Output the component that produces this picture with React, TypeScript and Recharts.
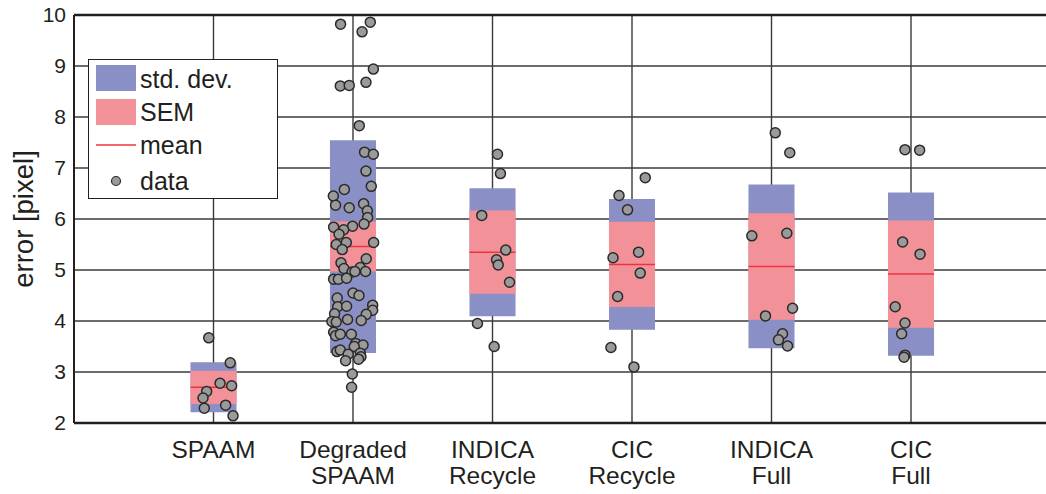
import React from "react";
import {
  ComposedChart,
  XAxis,
  YAxis,
  CartesianGrid,
  Scatter,
  ReferenceArea,
  ReferenceLine,
} from "recharts";

// ---- data ----
const categories = ["SPAAM", "Degraded SPAAM", "INDICA Recycle", "CIC Recycle", "INDICA Full", "CIC Full"];
const labelLines: string[][] = [
  ["SPAAM"],
  ["Degraded", "SPAAM"],
  ["INDICA", "Recycle"],
  ["CIC", "Recycle"],
  ["INDICA", "Full"],
  ["CIC", "Full"],
];
const catPositions = [1, 2, 3, 4, 5, 6];
const yTicks = [2, 3, 4, 5, 6, 7, 8, 9, 10];

const means = [2.7, 5.46, 5.35, 5.11, 5.07, 4.92];
const stdDevs = [0.49, 2.085, 1.255, 1.28, 1.605, 1.6];
const sems = [0.325, 0.49, 0.815, 0.835, 1.045, 1.05];

const spaamValues = [3.67, 3.18, 2.78, 2.73, 2.62, 2.49, 2.29, 2.35, 2.14];
const spaamJitter = [-0.034, 0.12, 0.047, 0.13, -0.049, -0.075, -0.066, 0.087, 0.14];

const degradedValues = [
  9.82, 9.86, 9.67, 8.94, 8.61, 8.62, 8.68, 7.83, 7.31, 7.27, 6.94, 6.64, 6.58, 6.45, 6.27, 6.22, 6.3,
  6.16, 6.03, 5.9, 5.86, 5.84, 5.79, 5.7, 5.54, 5.54, 5.5, 5.4, 5.22, 5.14, 5.03, 5.05, 4.96, 4.97,
  4.97, 4.82, 4.82, 4.84, 4.55, 4.5, 4.45, 4.28, 4.29, 4.31, 4.21, 4.14, 4.13, 3.99, 3.98, 4.03, 4.01,
  3.78, 3.71, 3.74, 3.74, 3.56, 3.53, 3.5, 3.4, 3.43, 3.35, 3.37, 3.3, 3.25, 3.22, 2.96, 2.7,
];
const degradedJitter = [
  -0.089, 0.124, 0.065, 0.146, -0.091, -0.027, 0.093, 0.045, 0.083, 0.146, 0.093, 0.131, -0.062,
  -0.141, -0.125, -0.027, 0.076, 0.103, 0.105, 0.079, -0.003, -0.139, -0.067, -0.1, 0.148, -0.048,
  -0.12, -0.077, 0.095, -0.086, -0.065, 0.052, -0.007, 0.014, 0.09, -0.139, -0.105, -0.046, 0, 0.043,
  -0.113, -0.11, -0.046, 0.141, 0.141, -0.132, 0.095, -0.151, -0.12, -0.039, 0.059, -0.139, -0.125,
  -0.091, -0.012, 0.019, 0.072, 0.009, -0.115, -0.091, -0.034, 0.052, 0.057, 0.04, -0.053, -0.005,
  -0.01,
];

const indicaRecycleValues = [7.27, 6.89, 6.07, 5.39, 5.2, 5.1, 4.76, 3.95, 3.5];
const indicaRecycleJitter = [0.036, 0.057, -0.077, 0.095, 0.029, 0.041, 0.122, -0.108, 0.012];

const cicRecycleValues = [6.81, 6.46, 6.18, 5.35, 5.24, 4.94, 4.48, 3.48, 3.1];
const cicRecycleJitter = [0.095, -0.093, -0.032, 0.047, -0.136, 0.059, -0.103, -0.151, 0.014];

const indicaFullValues = [7.69, 7.3, 5.67, 5.72, 4.25, 4.1, 3.75, 3.63, 3.51];
const indicaFullJitter = [0.027, 0.131, -0.141, 0.11, 0.151, -0.043, 0.079, 0.05, 0.115];

const cicFullValues = [7.36, 7.35, 5.55, 5.31, 4.28, 3.96, 3.75, 3.33, 3.29];
const cicFullJitter = [-0.043, 0.062, -0.06, 0.065, -0.113, -0.043, -0.067, -0.043, -0.05];

const allValues = [spaamValues, degradedValues, indicaRecycleValues, cicRecycleValues, indicaFullValues, cicFullValues];
const allJitter = [spaamJitter, degradedJitter, indicaRecycleJitter, cicRecycleJitter, indicaFullJitter, cicFullJitter];

const scatterData = allValues.flatMap((vals, ci) =>
  vals.map((v, i) => ({ x: catPositions[ci] + allJitter[ci][i], y: v, cat: categories[ci] }))
);

// ---- style ----
const FONT = '"Liberation Sans", Arial, Helvetica, sans-serif';
const TEXT = "#231f20";
const GRID = "#3a3a3a";
const SD_COLOR = "#8a8fc6";
const SEM_COLOR = "#f39198";
const MEAN_COLOR = "#ee3340";
const HALF_W = 0.165;

const XTick = (props: any) => {
  const { x, y, payload } = props;
  const idx = catPositions.indexOf(payload.value);
  const lines = idx >= 0 ? labelLines[idx] : [];
  return (
    <text x={x} y={y} textAnchor="middle" fill={TEXT} fontFamily={FONT} fontSize={24.5}>
      {lines.map((l, i) => (
        <tspan key={i} x={x} y={y + 27 + i * 26}>
          {l}
        </tspan>
      ))}
    </text>
  );
};

const YLabel = (props: any) => {
  const vb = props.viewBox || {};
  const cy = (vb.y ?? 15) + (vb.height ?? 408) / 2;
  const cx = 33;
  return (
    <text
      x={cx}
      y={cy}
      transform={`rotate(-90 ${cx} ${cy})`}
      textAnchor="middle"
      fill={TEXT}
      fontFamily={FONT}
      fontSize={27.5}
    >
      error [pixel]
    </text>
  );
};

const Dot = (props: any) => {
  const { cx, cy } = props;
  if (cx == null || cy == null) return null;
  return <circle cx={cx} cy={cy} r={5} fill="#9a9a9a" stroke="#2a2a2a" strokeWidth={1.5} />;
};

export default function App() {
  return (
    <div
      style={{
        position: "absolute",
        left: 0,
        top: 0,
        width: 1046,
        height: 494,
        overflow: "hidden",
        background: "#fff",
        fontFamily: FONT,
      }}
    >
      <ComposedChart width={1060} height={494} margin={{ top: 15, right: 9.5, left: 0, bottom: 0 }}>
        <CartesianGrid stroke={GRID} strokeWidth={1.4} />
        <XAxis
          type="number"
          dataKey="x"
          domain={[0, 7]}
          ticks={catPositions}
          interval={0}
          height={71}
          tickLine={false}
          axisLine={{ stroke: TEXT, strokeWidth: 2.5 }}
          tick={<XTick />}
          allowDataOverflow
        />
        <YAxis
          type="number"
          dataKey="y"
          domain={[2, 10]}
          ticks={yTicks}
          interval={0}
          width={74}
          tickLine={false}
          axisLine={{ stroke: TEXT, strokeWidth: 2 }}
          tick={{ fill: TEXT, fontFamily: FONT, fontSize: 21 }}
          label={<YLabel />}
          allowDataOverflow
        />
        <ReferenceLine y={10} stroke={TEXT} strokeWidth={2.5} />
        {catPositions.map((c, i) => (
          <ReferenceArea
            key={"sd" + i}
            x1={c - HALF_W}
            x2={c + HALF_W}
            y1={means[i] - stdDevs[i]}
            y2={means[i] + stdDevs[i]}
            fill={SD_COLOR}
            fillOpacity={1}
            stroke="none"
          />
        ))}
        {catPositions.map((c, i) => (
          <ReferenceArea
            key={"sem" + i}
            x1={c - HALF_W}
            x2={c + HALF_W}
            y1={means[i] - sems[i]}
            y2={means[i] + sems[i]}
            fill={SEM_COLOR}
            fillOpacity={1}
            stroke="none"
          />
        ))}
        {catPositions.map((c, i) => (
          <ReferenceLine
            key={"mean" + i}
            segment={[
              { x: c - HALF_W, y: means[i] },
              { x: c + HALF_W, y: means[i] },
            ]}
            stroke={MEAN_COLOR}
            strokeWidth={1.5}
          />
        ))}
        <Scatter data={scatterData} dataKey="y" shape={<Dot />} isAnimationActive={false} />
      </ComposedChart>
      <div
        style={{
          position: "absolute",
          left: 88,
          top: 59,
          width: 190,
          height: 140,
          boxSizing: "border-box",
          border: `1.5px solid ${TEXT}`,
          background: "#fff",
        }}
      >
        <svg width={190} height={140} style={{ position: "absolute", left: -1.5, top: -1.5 }}>
          <rect x={8} y={6} width={40} height={26} fill={SD_COLOR} />
          <rect x={8} y={40} width={40} height={26} fill={SEM_COLOR} />
          <line x1={8} x2={48} y1={86} y2={86} stroke={MEAN_COLOR} strokeWidth={1.5} />
          <circle cx={28} cy={122} r={4.5} fill="#9a9a9a" stroke="#2a2a2a" strokeWidth={1.2} />
          <g fontFamily={FONT} fontSize={25} fill={TEXT}>
            <text x={52} y={29}>std. dev.</text>
            <text x={52} y={62}>SEM</text>
            <text x={52} y={95}>mean</text>
            <text x={52} y={131}>data</text>
          </g>
        </svg>
      </div>
    </div>
  );
}
